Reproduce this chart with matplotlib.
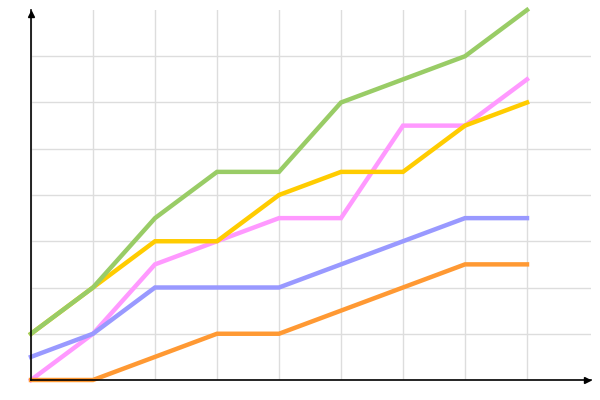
import matplotlib
matplotlib.use("Agg")
import matplotlib.pyplot as plt

x = [0, 1, 2, 3, 4, 5, 6, 7, 8]
pink = [0, 1, 2.5, 3, 3.5, 3.5, 5.5, 5.5, 6.5]
orange = [0, 0, 0.5, 1, 1, 1.5, 2, 2.5, 2.5]
blue = [0.5, 1, 2, 2, 2, 2.5, 3, 3.5, 3.5]
yellow = [1, 2, 3, 3, 4, 4.5, 4.5, 5.5, 6]
green = [1, 2, 3.5, 4.5, 4.5, 6, 6.5, 7, 8]

series = [(pink, "#ff99ff"), (orange, "#ff9933"), (blue, "#9999ff"),
          (yellow, "#ffcc00"), (green, "#99cc66")]

fig = plt.figure(figsize=(6, 4), dpi=100)
ax = fig.add_axes([31/600, 20/400, 560/600, 370/400])
for vals, c in series:
    ax.plot(x, vals, color=c, lw=3.2, solid_joinstyle="miter", clip_on=False, zorder=3)

ax.set_xlim(0, 560/62)
ax.set_ylim(0, 8)
ax.set_xticks(range(0, 9))
ax.set_yticks(range(0, 8))
ax.grid(True, color="#dddddd", lw=1)
ax.tick_params(length=0, labelbottom=False, labelleft=False)
for s in ["top", "right"]:
    ax.spines[s].set_visible(False)
for s in ["left", "bottom"]:
    ax.spines[s].set_color("black")
    ax.spines[s].set_linewidth(1.2)
    ax.spines[s].set_zorder(5)
ax.plot([0], [1.0 - 4/370], marker="^", color="black", ms=4.5, transform=ax.transAxes, clip_on=False, zorder=6)
ax.plot([1.0 - 4/560], [0], marker=">", color="black", ms=4.5, transform=ax.transAxes, clip_on=False, zorder=6)
ax.set_axisbelow(True)
fig.savefig("out.png", dpi=100)
